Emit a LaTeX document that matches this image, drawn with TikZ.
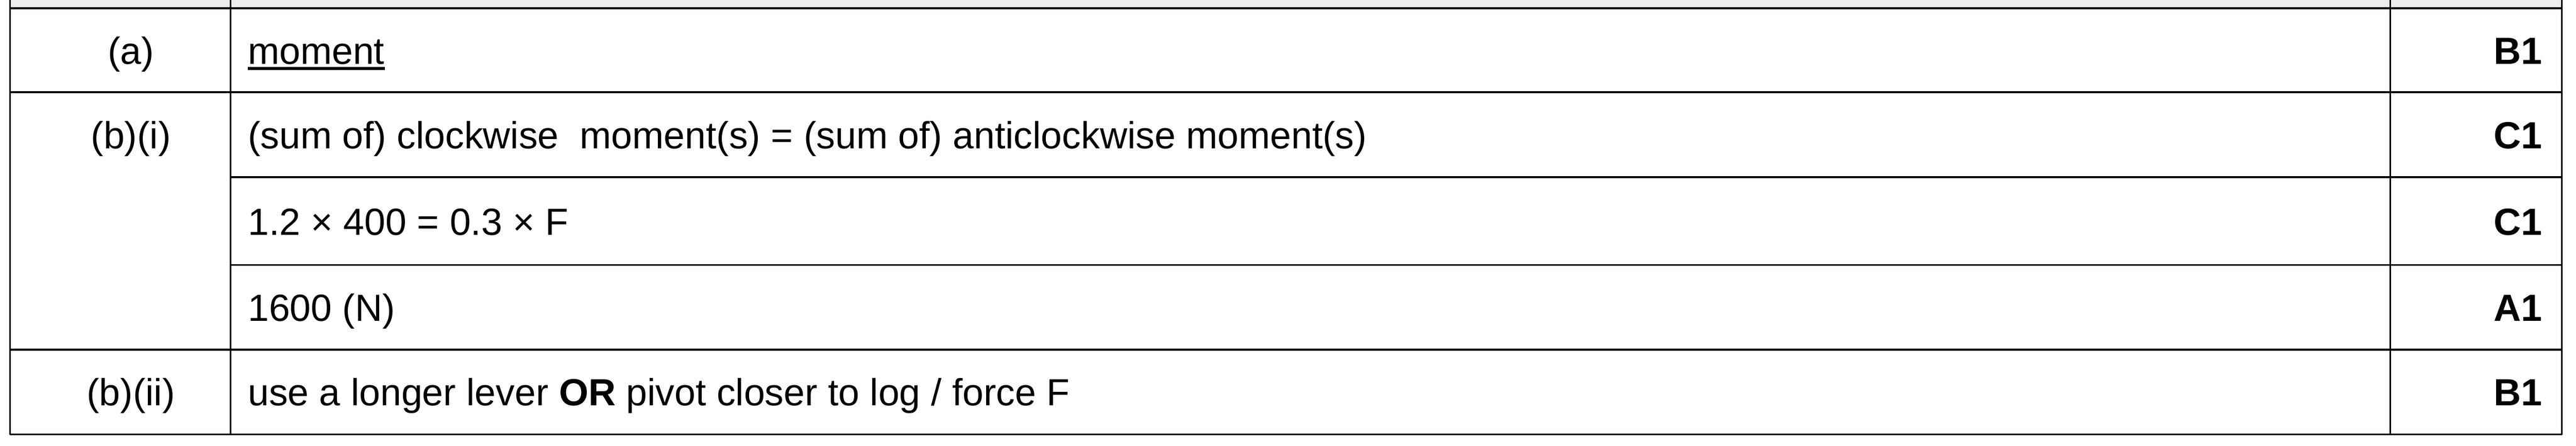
\documentclass[tikz,border=0pt]{standalone}
\usepackage{fontspec}
\setmainfont{Liberation Sans}
\usetikzlibrary{calc}
\tikzset{
	txt/.style={inner sep=0pt, font=\fontsize{25.9}{31}\selectfont},
	grid/.style={line width=0.045cm, color=black}
}

\begin{document}
\begin{tikzpicture}
		%%%%% START %%%%%
		\useasboundingbox (0, 0) rectangle (62, -10.73);
		
		\fill[black!7] (0.24, 0) rectangle (61.66, -0.195);
		
		\draw[grid] (0.24, -0.195) -- (61.66, -0.195);
		\draw[grid] (0.24, -2.22) -- (61.66, -2.22);
		\draw[grid] (5.55, -4.265) -- (61.66, -4.265);
		\draw[grid] (5.55, -6.38) -- (61.66, -6.38);
		\draw[grid] (0.24, -8.42) -- (61.66, -8.42);
		\draw[grid] (0.24, -10.46) -- (61.66, -10.46);
		
		\draw[grid] (0.24, 0) -- (0.24, -10.46);
		\draw[grid] (5.55, 0) -- (5.55, -10.46);
		\draw[grid] (57.53, 0) -- (57.53, -10.46);
		\draw[grid] (61.66, 0) -- (61.66, -10.46);
		
		\node[txt, anchor=base] (qa) at (3.15, -1.54) {(a)};
		\node[txt, anchor=base] (qbi) at (3.15, -3.575) {(b)(i)};
		\node[txt, anchor=base] (qbii) at (3.15, -9.77) {(b)(ii)};
		
		\node[txt, anchor=base west] (ansa) at (5.96, -1.54) {moment};
		\draw[line width=0.07cm] ($(ansa.base west)+(0, -0.11)$) -- ($(ansa.base east)+(0, -0.11)$);
		
		\node[txt, anchor=base west] (ansb1) at (5.96, -3.575) {(sum of) clockwise\ \ moment(s) = (sum of) anticlockwise moment(s)};
		\node[txt, anchor=base west] (ansb2) at (5.96, -5.655) {1.2 × 400 = 0.3 × F};
		\node[txt, anchor=base west] (ansb3) at (5.96, -7.73) {1600 (N)};
		\node[txt, anchor=base west] (ansbii) at (5.96, -9.77) {use a longer lever \textbf{OR} pivot closer to log / force F};
		
		\node[txt, anchor=base east, font=\fontsize{25.9}{31}\selectfont\bfseries] (marka) at (61.19, -1.54) {B1};
		\node[txt, anchor=base east, font=\fontsize{25.9}{31}\selectfont\bfseries] (markb1) at (61.19, -3.575) {C1};
		\node[txt, anchor=base east, font=\fontsize{25.9}{31}\selectfont\bfseries] (markb2) at (61.19, -5.655) {C1};
		\node[txt, anchor=base east, font=\fontsize{25.9}{31}\selectfont\bfseries] (markb3) at (61.19, -7.73) {A1};
		\node[txt, anchor=base east, font=\fontsize{25.9}{31}\selectfont\bfseries] (markbii) at (61.19, -9.77) {B1};
		
		%%%%% END %%%%%
	\end{tikzpicture}
\end{document}
